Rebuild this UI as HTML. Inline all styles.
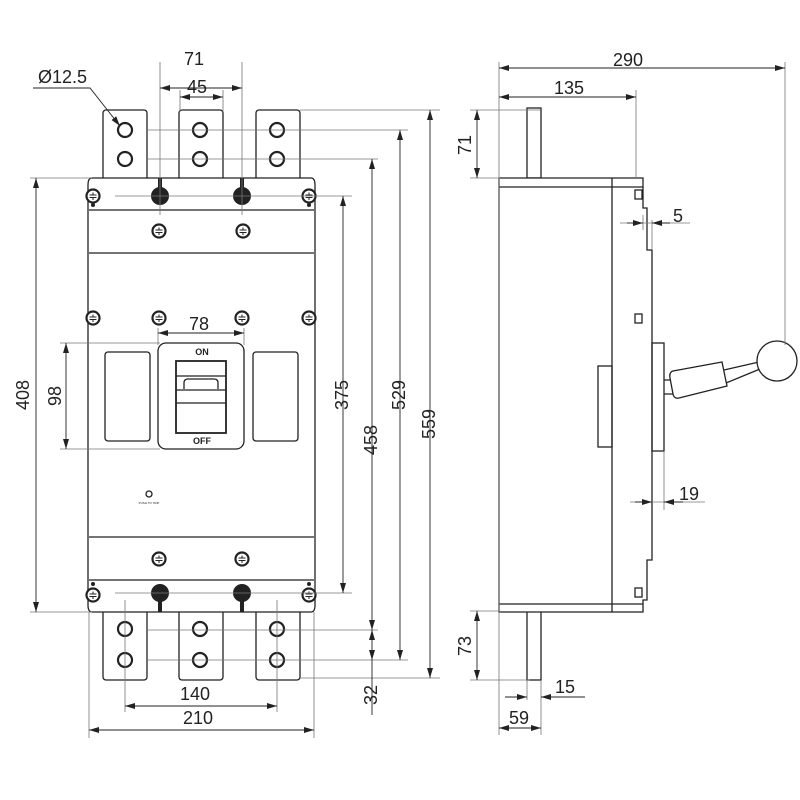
<!DOCTYPE html>
<html><head><meta charset="utf-8"><style>body{margin:0;background:#fff}svg{display:block}</style></head><body>
<svg width="800" height="800" viewBox="0 0 800 800" xmlns="http://www.w3.org/2000/svg" font-family="Liberation Sans, sans-serif">
<defs>
<marker id="a" viewBox="0 0 10 6" refX="10" refY="3" markerWidth="10" markerHeight="6" orient="auto-start-reverse" markerUnits="userSpaceOnUse"><path d="M0,0L10,3L0,6z" fill="#222"/></marker>
<g id="scr"><circle r="6.5" fill="#fff" stroke="#222" stroke-width="2.2"/><path d="M-3.5,-1h7M-3.5,1.5h7M0,-3.5v2M0,2v2" stroke="#222" stroke-width="1"/></g>
</defs>
<g fill="none" stroke="#222" stroke-width="1.3">
<rect x="103" y="110" width="44" height="72" rx="3" fill="#fff"/>
<rect x="179" y="110" width="44" height="72" rx="3" fill="#fff"/>
<rect x="256" y="110" width="44" height="72" rx="3" fill="#fff"/>
<rect x="103" y="608" width="44" height="72" rx="3" fill="#fff"/>
<rect x="179" y="608" width="44" height="72" rx="3" fill="#fff"/>
<rect x="256" y="608" width="44" height="72" rx="3" fill="#fff"/>
<path d="M92,178H311Q315,178 315,185V605Q315,612 311,612H92Q88,612 88,605V185Q88,178 92,178Z" fill="#fff"/>
<line x1="89" y1="210" x2="314" y2="210"/><line x1="89" y1="253" x2="314" y2="253"/>
<line x1="89" y1="537" x2="314" y2="537"/><line x1="89" y1="580" x2="314" y2="580"/>
<g stroke-width="2.2"><circle cx="125" cy="130" r="7"/><circle cx="125" cy="159" r="7"/><circle cx="200" cy="130" r="7"/><circle cx="200" cy="159" r="7"/><circle cx="277" cy="130" r="7"/><circle cx="277" cy="159" r="7"/>
<circle cx="125" cy="629" r="7"/><circle cx="125" cy="660" r="7"/><circle cx="200" cy="629" r="7"/><circle cx="200" cy="660" r="7"/><circle cx="277" cy="629" r="7"/><circle cx="277" cy="660" r="7"/></g>
<rect x="158" y="343" width="86" height="106" rx="8"/>
<rect x="105" y="352" width="45" height="89" rx="3"/><rect x="253" y="352" width="45" height="89" rx="3"/>
<rect x="176" y="361" width="50" height="72" stroke-width="1.8"/>
<line x1="176" y1="376" x2="226" y2="376"/><line x1="176" y1="390" x2="226" y2="390"/><line x1="176" y1="403" x2="226" y2="403"/>
<path d="M184,389V383Q184,379 188,379H214Q218,379 218,383V389"/>
<circle cx="149" cy="494" r="3"/>
<rect x="527" y="108" width="14" height="70"/><rect x="527" y="611" width="14" height="69"/>
<path d="M499,178H643V208H647V250H652V560H647V600H643V612H499Z" fill="#fff"/>
<line x1="612" y1="178" x2="612" y2="612"/><line x1="499" y1="187" x2="643" y2="187"/><line x1="499" y1="604" x2="643" y2="604"/>
<rect x="598" y="366" width="14" height="81"/><rect x="652" y="343" width="12" height="108"/>
<rect x="635" y="190" width="7" height="9"/><rect x="635" y="314" width="7" height="9"/><rect x="635" y="588" width="7" height="9"/>
<path d="M664,380H672M664,394H674"/>
<path d="M673,371L722,362L727,386L679,398Q674,399 673,394L670,378Q669,372 673,371Z" fill="#fff"/>
<path d="M724,370L759,362M726,383L760,369"/>
<circle cx="777" cy="361" r="20" fill="#fff"/>
</g>
<g><use href="#scr" x="93" y="196"/><use href="#scr" x="309" y="196"/><use href="#scr" x="159" y="231"/><use href="#scr" x="243" y="231"/>
<use href="#scr" x="93" y="318"/><use href="#scr" x="159" y="318"/><use href="#scr" x="242" y="318"/><use href="#scr" x="309" y="318"/>
<use href="#scr" x="159" y="559"/><use href="#scr" x="242" y="559"/><use href="#scr" x="93" y="595"/><use href="#scr" x="309" y="595"/></g>
<g fill="#222"><circle cx="93" cy="205" r="2"/><circle cx="309" cy="205" r="2"/><circle cx="93" cy="584" r="2"/><circle cx="309" cy="584" r="2"/>
<circle cx="160" cy="196" r="9"/><circle cx="242" cy="196" r="9"/><circle cx="160" cy="593" r="9"/><circle cx="242" cy="593" r="9"/>
<rect x="158" y="178" width="4" height="12"/><rect x="240" y="178" width="4" height="12"/><rect x="158" y="598" width="4" height="14"/><rect x="240" y="598" width="4" height="14"/></g>
<g stroke="#777" stroke-width="0.8" fill="none">
<path d="M160,62V215M242,62V215M180,90V112M223,90V112"/>
<path d="M300,110H440M147,130H408M147,159H378M115,196H352M115,593H352M147,630H378M147,660H408M300,678H440"/>
<path d="M30,178H92M30,612H92M60,343H160M60,449H160"/>
<path d="M158,328V345M244,328V345"/>
<path d="M125,600V712M277,600V712M89,612V738M314,612V738"/>
<path d="M499,62V735M785,62V345M636,90V178M470,110H540M470,178H500M470,611H500M470,680H530M541,680V735M527,680V700"/>
<path d="M620,223H690M643,215V230M652,220V250M630,502H705M664,451V510"/>
</g>
<g stroke="#222" stroke-width="0.9" fill="none" marker-start="url(#a)" marker-end="url(#a)">
<line x1="160" y1="88" x2="242" y2="88"/><line x1="180" y1="97" x2="223" y2="97"/>
<line x1="36" y1="178" x2="36" y2="612"/><line x1="66" y1="343" x2="66" y2="449"/>
<line x1="158" y1="333" x2="244" y2="333"/>
<line x1="343" y1="196" x2="343" y2="593"/><line x1="372" y1="159" x2="372" y2="630"/><line x1="372" y1="630" x2="372" y2="660"/>
<line x1="400" y1="130" x2="400" y2="660"/><line x1="430" y1="110" x2="430" y2="678"/>
<line x1="125" y1="706" x2="277" y2="706"/><line x1="89" y1="730" x2="314" y2="730"/>
<line x1="499" y1="68" x2="785" y2="68"/><line x1="499" y1="97" x2="636" y2="97"/>
<line x1="477" y1="110" x2="477" y2="178"/><line x1="477" y1="611" x2="477" y2="680"/>
<line x1="499" y1="728" x2="541" y2="728"/>
</g>
<g stroke="#222" stroke-width="0.9" fill="none">
<line x1="505" y1="697" x2="527" y2="697" marker-end="url(#a)"/><line x1="585" y1="697" x2="541" y2="697" marker-end="url(#a)"/>
<line x1="627" y1="223" x2="643" y2="223" marker-end="url(#a)"/><line x1="670" y1="223" x2="652" y2="223" marker-end="url(#a)"/>
<line x1="635" y1="502" x2="652" y2="502" marker-end="url(#a)"/><line x1="683" y1="502" x2="664" y2="502" marker-end="url(#a)"/>
<line x1="372" y1="660" x2="372" y2="715"/>
<path d="M33,88H90L120,126" marker-end="url(#a)"/>
</g>
<g fill="#222" font-size="18">
<text x="184" y="65">71</text><text x="187" y="93">45</text><text x="38" y="83">Ø12.5</text>
<text x="189" y="330">78</text>
<text x="180" y="700">140</text><text x="183" y="724">210</text>
<text x="613" y="66">290</text><text x="554" y="94">135</text>
<text x="673" y="222">5</text><text x="679" y="500">19</text>
<text x="555" y="693">15</text><text x="509" y="724">59</text>
<text transform="translate(29,395) rotate(-90)" text-anchor="middle">408</text>
<text transform="translate(61,396) rotate(-90)" text-anchor="middle">98</text>
<text transform="translate(348,395) rotate(-90)" text-anchor="middle">375</text>
<text transform="translate(377,440) rotate(-90)" text-anchor="middle">458</text>
<text transform="translate(405,395) rotate(-90)" text-anchor="middle">529</text>
<text transform="translate(435,424) rotate(-90)" text-anchor="middle">559</text>
<text transform="translate(377,695) rotate(-90)" text-anchor="middle">32</text>
<text transform="translate(471,145) rotate(-90)" text-anchor="middle">71</text>
<text transform="translate(471,646) rotate(-90)" text-anchor="middle">73</text>
</g>
<g fill="#222" font-weight="bold" font-size="9" text-anchor="middle"><text x="202" y="355">ON</text><text x="202" y="444">OFF</text></g>
<text x="149" y="504" font-size="3" text-anchor="middle" fill="#222">PUSH TO TRIP</text>
</svg>
</body></html>
